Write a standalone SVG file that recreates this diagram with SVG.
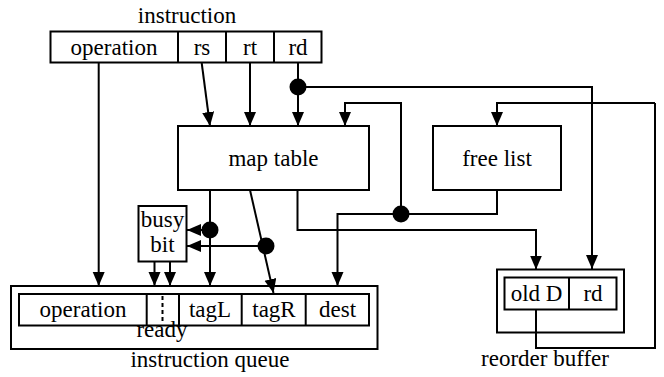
<svg xmlns="http://www.w3.org/2000/svg" width="664" height="377" viewBox="0 0 664 377">
<defs>
<style>
.box{fill:#fff;stroke:#000;stroke-width:2}
.ln{fill:none;stroke:#000;stroke-width:2}
.t{font-family:"Liberation Serif","Times New Roman",serif;font-size:23px;fill:#000;text-anchor:middle}
.dot{fill:#000}
</style>
<marker id="ah" markerUnits="userSpaceOnUse" markerWidth="15" markerHeight="13" refX="14" refY="6" orient="auto">
<path d="M0,0 L14,6 L0,12 z" fill="#000"/>
</marker>
</defs>
<rect width="664" height="377" fill="#fff"/>

<g id="instruction">
<text class="t" x="187" y="23">instruction</text>
<rect class="box" x="50.5" y="31.5" width="271" height="31"/>
<line class="ln" x1="178" y1="31.5" x2="178" y2="62.5"/>
<line class="ln" x1="226" y1="31.5" x2="226" y2="62.5"/>
<line class="ln" x1="274" y1="31.5" x2="274" y2="62.5"/>
<text class="t" x="114" y="55">operation</text>
<text class="t" x="202" y="55">rs</text>
<text class="t" x="250" y="55">rt</text>
<text class="t" x="298" y="55">rd</text>
</g>

<g id="map-table">
<rect class="box" x="178" y="126" width="191" height="64"/>
<text class="t" x="273.5" y="166">map table</text>
</g>

<g id="free-list">
<rect class="box" x="433" y="126" width="128" height="64"/>
<text class="t" x="497" y="166">free list</text>
</g>

<g id="busy-bit">
<rect class="box" x="138.5" y="206" width="48" height="55.5"/>
<text class="t" x="162.5" y="227">busy</text>
<text class="t" x="162.5" y="252">bit</text>
</g>

<g id="instruction-queue">
<rect class="box" x="11" y="286" width="366.5" height="63"/>
<rect class="box" x="19" y="294" width="350" height="31.5"/>
<line class="ln" x1="146.7" y1="294" x2="146.7" y2="325.5"/>
<line class="ln" x1="179" y1="294" x2="179" y2="325.5"/>
<line class="ln" x1="241.7" y1="294" x2="241.7" y2="325.5"/>
<line class="ln" x1="305.7" y1="294" x2="305.7" y2="325.5"/>
<line x1="162.5" y1="296" x2="162.5" y2="324" stroke="#000" stroke-width="2" stroke-dasharray="4,3"/>
<text class="t" x="83" y="317">operation</text>
<text class="t" x="210" y="317">tagL</text>
<text class="t" x="274" y="317">tagR</text>
<text class="t" x="337.5" y="317">dest</text>
<text class="t" x="162" y="337">ready</text>
<text class="t" x="210" y="367">instruction queue</text>
</g>

<g id="reorder-buffer">
<rect class="box" x="497" y="269.5" width="127" height="63"/>
<rect class="box" x="504.5" y="277.5" width="112" height="32"/>
<line class="ln" x1="569" y1="277.5" x2="569" y2="309.5"/>
<text class="t" x="536.5" y="301">old D</text>
<text class="t" x="593" y="301">rd</text>
<text class="t" x="545" y="366">reorder buffer</text>
</g>

<g id="connectors">
<line class="ln" x1="98.7" y1="63" x2="98.7" y2="286" marker-end="url(#ah)"/>
<line class="ln" x1="201.7" y1="63" x2="210" y2="126" marker-end="url(#ah)"/>
<line class="ln" x1="250" y1="63" x2="250" y2="126" marker-end="url(#ah)"/>
<line class="ln" x1="298" y1="63" x2="298" y2="126" marker-end="url(#ah)"/>
<polyline class="ln" points="298,87 592,87 592,269" marker-end="url(#ah)"/>
<circle class="dot" cx="298" cy="87" r="8.5"/>
<polyline class="ln" points="401,214 401,103 345,103 345,126" marker-end="url(#ah)"/>
<polyline class="ln" points="655,103 497,103 497,126" marker-end="url(#ah)"/>
<polyline class="ln" points="536,309.5 536,348 655,348 655,103"/>
<polyline class="ln" points="497,190 497,214 337.5,214 337.5,286" marker-end="url(#ah)"/>
<circle class="dot" cx="401" cy="214" r="8.5"/>
<polyline class="ln" points="297.5,190 297.5,230 536,230 536,269.5" marker-end="url(#ah)"/>
<line class="ln" x1="210" y1="190" x2="210" y2="286" marker-end="url(#ah)"/>
<line class="ln" x1="210" y1="230" x2="187" y2="230" marker-end="url(#ah)"/>
<circle class="dot" cx="210" cy="230" r="8.5"/>
<line class="ln" x1="250" y1="190" x2="273.5" y2="293" marker-end="url(#ah)"/>
<line class="ln" x1="266" y1="246" x2="187" y2="246" marker-end="url(#ah)"/>
<circle class="dot" cx="266" cy="246" r="8.5"/>
<line class="ln" x1="154.5" y1="261.5" x2="154.5" y2="286" marker-end="url(#ah)"/>
<line class="ln" x1="170" y1="261.5" x2="170" y2="286" marker-end="url(#ah)"/>
</g>
</svg>
